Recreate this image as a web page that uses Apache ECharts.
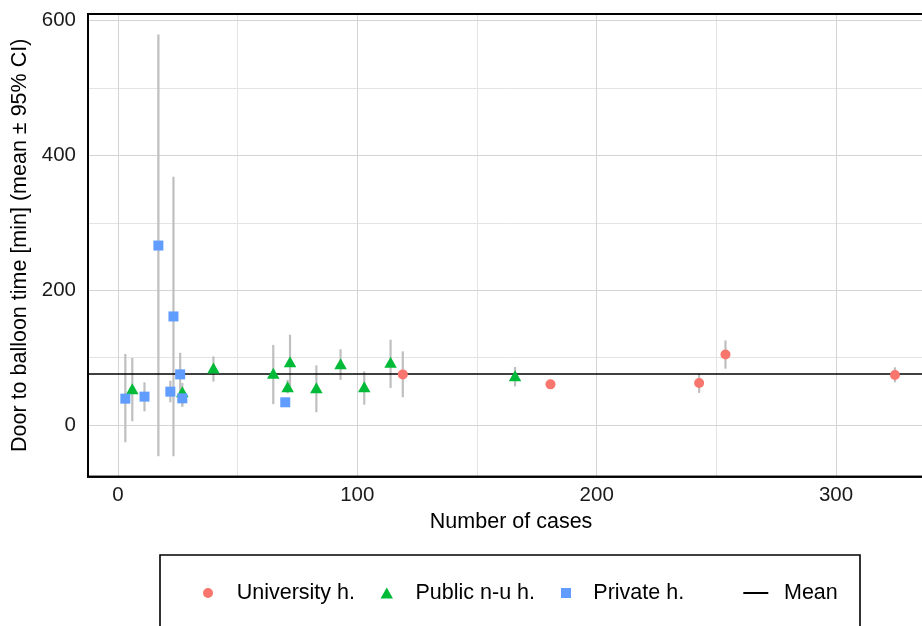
<!DOCTYPE html>
<html><head><meta charset="utf-8">
<script src="https://cdn.jsdelivr.net/npm/echarts@6/dist/echarts.min.js"></script>
<style>html,body{margin:0;padding:0;background:#fff}#c{width:922px;height:626px}</style>
</head><body><div id="c"></div>
<script>
// University hospitals
const uniCases = [119.0, 180.7, 242.8, 253.8, 324.6];
const uniMean  = [75.2, 60.4, 62.4, 104.8, 74.3];
const uniLow   = [41.2, 58.0, 47.7, 83.6, 63.4];
const uniHigh  = [109.3, 63.0, 77.3, 125.5, 85.6];
// Public non-university hospitals
const pubCases = [6.0, 26.9, 39.9, 64.9, 71.9, 70.9, 82.9, 93.0, 102.9, 113.9, 165.9];
const pubMean  = [54.0, 49.6, 84.6, 76.7, 94.0, 57.0, 55.5, 91.0, 57.0, 93.0, 73.3];
const pubLow   = [5.7, 26.9, 64.6, 31.1, 54.0, 47.0, 19.0, 67.1, 30.3, 55.1, 57.4];
const pubHigh  = [99.5, 62.4, 101.9, 118.9, 134.0, 67.0, 88.5, 112.5, 79.6, 126.6, 86.2];
// Private hospitals
const priCases = [3.1, 11.1, 16.9, 21.9, 23.2, 26.0, 26.9, 69.9];
const priMean  = [39.2, 42.2, 266.2, 49.6, 161.1, 75.2, 39.7, 33.8];
const priLow   = [-25.5, 20.4, -46.2, 33.8, -46.2, 43.0, 30.0, 30.0];
const priHigh  = [105.4, 63.4, 579.1, 65.9, 368.3, 107.2, 50.0, 38.0];
// Overall mean
const overallMean = 75.5;

const FONT = 'Liberation Sans, Arial, Helvetica, sans-serif';
const zip = (xs, ys) => xs.map((x, i) => [x, ys[i]]);
const bars = (xs, lo, hi) => xs.map((x, i) => [x, lo[i], hi[i]]);
const errData = [].concat(bars(priCases, priLow, priHigh), bars(pubCases, pubLow, pubHigh), bars(uniCases, uniLow, uniHigh));

const chart = echarts.init(document.getElementById('c'), null, {renderer: 'canvas'});
const legendCommon = {padding: 0, itemGap: 0, selectedMode: false, top: 582,
  textStyle: {fontFamily: FONT, fontSize: 21.5, lineHeight: 22, color: '#000'}};
function leg(name, left, icon, w, h, pad) {
  return Object.assign({}, legendCommon, {data: [name], left: left, icon: icon, itemWidth: w, itemHeight: h,
    textStyle: Object.assign({}, legendCommon.textStyle, {padding: [0, 0, 0, pad]})});
}
const xMin = -12.5, xMax = 341, yMin = -76.5, yMax = 609.5;
const hideAxis = {axisLine: {show: false}, axisTick: {show: false}, axisLabel: {show: false}};
chart.setOption({
  animation: false,
  backgroundColor: '#fff',
  grid: {left: 88, top: 14, right: -12.2, bottom: 149.3, show: true, borderColor: '#000', borderWidth: 2, containLabel: false, outerBoundsMode: 'none', z: 5},
  graphic: [
    {type: 'rect', shape: {x: 160, y: 555, width: 700, height: 120}, style: {fill: 'none', stroke: '#000', lineWidth: 1.6}, z: 10},
    {type: 'rect', shape: {x: 88, y: 14, width: 846.2, height: 462.7}, style: {fill: 'none', stroke: '#000', lineWidth: 2}, z: 10, silent: true}
  ],
  legend: [
    leg('University h.', 203, 'circle', 10, 10, 18.7),
    leg('Public n-u h.', 380.5, 'triangle', 12.5, 11, 17.5),
    leg('Private h.', 561, 'rect', 10, 10, 17.3),
    leg('Mean', 743.3, 'rect', 25, 2, 10.7)
  ],
  xAxis: [
    {type: 'value', min: xMin, max: xMax, splitNumber: 4, z: 1,
     axisLine: {show: false}, axisTick: {show: false},
     axisLabel: {showMinLabel: false, showMaxLabel: false, fontFamily: FONT, fontSize: 20.5, color: '#1a1a1a', margin: 8},
     splitLine: {showMinLine: false, showMaxLine: false, lineStyle: {color: '#d4d4d4', width: 1}},
     name: 'Number of cases', nameLocation: 'middle', nameGap: 28,
     nameTextStyle: {fontFamily: FONT, fontSize: 21.5, color: '#000'}},
    Object.assign({type: 'value', min: xMin, max: xMax, splitNumber: 7, position: 'bottom', z: 0,
     splitLine: {showMinLine: false, showMaxLine: false, lineStyle: {color: '#e4e4e4', width: 1}}}, hideAxis)
  ],
  yAxis: [
    {type: 'value', min: yMin, max: yMax, splitNumber: 4, z: 1,
     axisLine: {show: false}, axisTick: {show: false},
     axisLabel: {showMinLabel: false, showMaxLabel: false, fontFamily: FONT, fontSize: 20.5, color: '#1a1a1a', margin: 12},
     splitLine: {showMinLine: false, showMaxLine: false, lineStyle: {color: '#d4d4d4', width: 1}},
     name: 'Door to balloon time [min] (mean ± 95% CI)', nameLocation: 'middle', nameGap: 46, nameRotate: 90,
     nameTextStyle: {fontFamily: FONT, fontSize: 21.5, color: '#000'}},
    Object.assign({type: 'value', min: yMin, max: yMax, splitNumber: 7, position: 'left', z: 0,
     splitLine: {showMinLine: false, showMaxLine: false, lineStyle: {color: '#e4e4e4', width: 1}}}, hideAxis)
  ],
  series: [
    {type: 'custom', name: 'CI', data: errData, z: 1, silent: true,
     encode: {x: 0, y: [1, 2]},
     renderItem: function (params, api) {
       const x = api.value(0);
       const p1 = api.coord([x, api.value(1)]);
       const p2 = api.coord([x, api.value(2)]);
       return {type: 'line', shape: {x1: p1[0], y1: p1[1], x2: p2[0], y2: p2[1]},
               style: {stroke: '#bfbfbf', lineWidth: 2.2}};
     }},
    {type: 'line', name: 'Mean', data: [], color: '#000', lineStyle: {color: '#000'},
     markLine: {silent: true, z: 2, symbol: ['none', 'none'], label: {show: false},
       lineStyle: {color: '#000', width: 1.6, type: 'solid'}, data: [{yAxis: overallMean}]}},
    {type: 'scatter', name: 'University h.', data: zip(uniCases, uniMean), symbol: 'circle', symbolSize: 10, z: 3,
     itemStyle: {color: '#F8766D', opacity: 1}},
    {type: 'scatter', name: 'Public n-u h.', data: zip(pubCases, pubMean), symbol: 'triangle', symbolSize: [12.5, 11], z: 3,
     itemStyle: {color: '#00BA38', opacity: 1}},
    {type: 'scatter', name: 'Private h.', data: zip(priCases, priMean), symbol: 'rect', symbolSize: 10, z: 3,
     itemStyle: {color: '#619CFF', opacity: 1}}
  ]
});
</script></body></html>
